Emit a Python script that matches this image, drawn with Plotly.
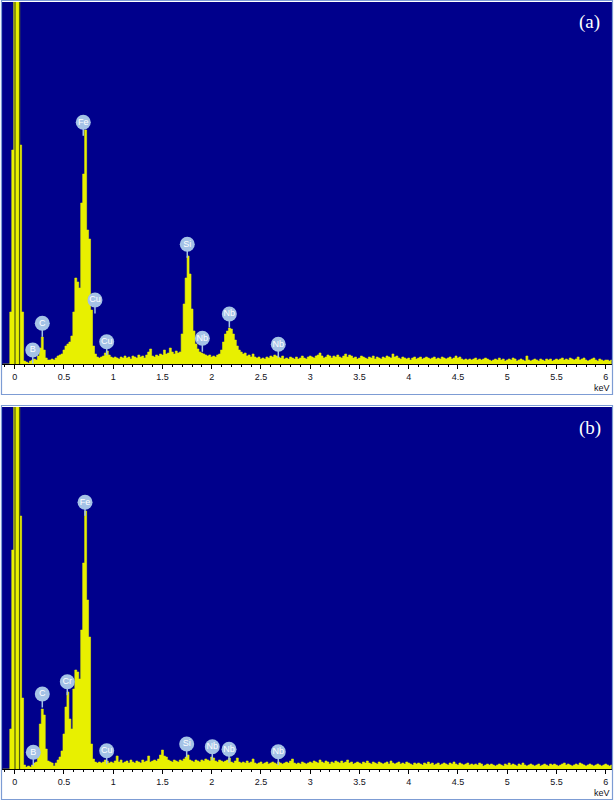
import numpy as np
import plotly.graph_objects as go

# ---------------- data ----------------
E_START = -0.12   # keV of first channel
E_STEP = 0.02     # keV per channel

counts_a = [
    0, 0, 0, 0, 52, 214, 600, 600, 600, 219,
    52, 3, 2, 1, 3, 4, 5, 4, 8, 16,
    27, 14, 6, 4, 4, 5, 4, 6, 8, 9,
    10, 14, 18, 20, 22, 28, 52, 86, 82, 76,
    161, 190, 234, 134, 125, 54, 18, 10, 7, 6,
    7, 8, 11, 13, 9, 7, 6, 7, 6, 5,
    7, 6, 8, 6, 7, 5, 8, 7, 6, 9,
    7, 8, 6, 9, 12, 15, 8, 7, 9, 8,
    10, 9, 14, 10, 11, 16, 12, 10, 13, 11,
    12, 30, 60, 86, 108, 90, 55, 33, 20, 15,
    12, 11, 10, 9, 8, 9, 7, 8, 7, 9,
    10, 14, 22, 30, 33, 36, 35, 30, 24, 18,
    14, 12, 10, 11, 8, 9, 7, 10, 7, 6,
    7, 5, 6, 5, 7, 6, 8, 7, 9, 8,
    7, 6, 8, 5, 6, 5, 7, 6, 5, 7,
    5, 6, 8, 6, 5, 7, 8, 7, 6, 8,
    9, 11, 8, 6, 7, 9, 8, 6, 8, 7,
    9, 7, 6, 8, 10, 7, 9, 8, 6, 7,
    5, 6, 8, 7, 6, 5, 7, 6, 8, 5,
    7, 6, 5, 7, 6, 8, 7, 6, 10, 7,
    8, 6, 5, 7, 6, 5, 6, 4, 6, 7,
    5, 6, 7, 5, 6, 7, 6, 5, 6, 7,
    5, 6, 5, 7, 6, 5, 6, 7, 5, 6,
    8, 6, 7, 5, 4, 5, 4, 5, 4, 5,
    6, 4, 5, 4, 5, 6, 5, 4, 3, 4,
    5, 4, 6, 4, 5, 3, 4, 5, 4, 6,
    5, 3, 4, 5, 4, 3, 8, 4, 3, 4,
    5, 4, 3, 5, 4, 3, 5, 4, 5, 3,
    4, 5, 4, 5, 6, 4, 5, 4, 6, 5,
    4, 5, 7, 4, 5, 6, 4, 3, 4, 5,
    6, 4, 3, 5, 4, 3, 4, 4, 3, 4,
]

counts_b = [
    0, 0, 0, 0, 40, 219, 600, 600, 600, 253,
    71, 4, 2, 3, 2, 4, 6, 7, 14, 45,
    60, 54, 20, 8, 7, 6, 3, 6, 9, 12,
    18, 35, 62, 77, 50, 40, 80, 99, 97, 90,
    139, 206, 258, 169, 132, 25, 10, 7, 6, 7,
    6, 7, 9, 8, 6, 7, 6, 8, 13, 7,
    9, 6, 7, 8, 6, 9, 7, 6, 8, 7,
    6, 9, 7, 8, 13, 7, 8, 9, 8, 10,
    14, 19, 13, 12, 9, 8, 7, 9, 8, 7,
    9, 8, 10, 12, 14, 9, 8, 7, 9, 8,
    7, 9, 8, 10, 9, 8, 12, 11, 8, 7,
    9, 8, 7, 8, 9, 11, 7, 6, 8, 11,
    7, 6, 7, 6, 8, 6, 7, 10, 6, 5,
    6, 7, 5, 6, 7, 5, 6, 7, 6, 5,
    7, 6, 5, 6, 7, 6, 8, 10, 6, 5,
    6, 5, 7, 6, 5, 6, 7, 6, 8, 7,
    6, 9, 7, 6, 8, 7, 5, 7, 6, 8,
    7, 6, 8, 6, 7, 9, 6, 7, 5, 6,
    7, 6, 5, 7, 6, 8, 6, 5, 7, 6,
    5, 7, 6, 5, 6, 7, 5, 8, 6, 5,
    6, 7, 5, 6, 5, 7, 6, 5, 4, 6,
    5, 6, 5, 4, 6, 5, 7, 5, 6, 4,
    5, 6, 4, 5, 6, 5, 4, 6, 5, 7,
    5, 4, 6, 5, 4, 5, 6, 4, 5, 4,
    5, 4, 6, 5, 3, 4, 5, 4, 5, 4,
    3, 4, 5, 4, 3, 5, 4, 6, 4, 5,
    4, 3, 5, 4, 6, 4, 3, 4, 5, 4,
    3, 4, 5, 3, 4, 5, 4, 3, 5, 4,
    5, 4, 3, 4, 5, 6, 4, 5, 4, 3,
    4, 5, 4, 6, 5, 4, 3, 4, 5, 4,
    3, 4, 5, 4, 3, 4, 5, 4, 3, 4,
]

labels_a = ["B", "C", "Fe", "Cu", "Cu", "Si", "Nb", "Nb", "Nb"]
label_kev_a = [0.183, 0.280, 0.696, 0.815, 0.934, 1.752, 1.905, 2.179, 2.676]
label_h_a = [14, 40.7, 241.7, 64, 22.3, 119.7, 25.7, 50, 19.7]

labels_b = ["B", "C", "Cr", "Fe", "Cu", "Si", "Nb", "Nb", "Nb"]
label_kev_b = [0.189, 0.280, 0.534, 0.714, 0.934, 1.746, 2.006, 2.176, 2.676]
label_h_b = [16.7, 75, 87.3, 266.7, 18.3, 25, 22.3, 19.7, 17.3]

tick_vals = [0, 0.5, 1, 1.5, 2, 2.5, 3, 3.5, 4, 4.5, 5, 5.5, 6]
tick_text = ["0", "0.5", "1", "1.5", "2", "2.5", "3", "3.5", "4", "4.5", "5", "5.5", "6"]
marker_lines_kev = [0.003, 0.049]
panel_tags = ["(a)", "(b)"]

# ---------------- style ----------------
W, H = 614, 801
BLUE = "#00008c"
YELLOW = "#e8f000"
LABEL_FILL = "#a4c2e6"
FRAME = "#7d9cd4"
Y_MAX = 362

def py(px):  # pixel from top -> paper y
    return 1 - px / H

def pxx(px):
    return px / W

panels = [
    dict(counts=counts_a, labels=labels_a, lk=label_kev_a, lh=label_h_a,
         top=0, xa="x", ya="y"),
    dict(counts=counts_b, labels=labels_b, lk=label_kev_b, lh=label_h_b,
         top=405, xa="x2", ya="y2"),
]

fig = go.Figure()
shapes = []
annotations = []
layout_axes = {}

for k, p in enumerate(panels):
    t = p["top"]
    energies = np.round(E_START + E_STEP * np.arange(len(p["counts"])), 3)
    fig.add_trace(go.Scatter(
        x=energies, y=p["counts"], mode="lines", line_shape="hvh",
        fill="tozeroy", fillcolor=YELLOW,
        line=dict(color=YELLOW, width=0.6),
        xaxis=p["xa"], yaxis=p["ya"], hoverinfo="skip", showlegend=False))
    # label stems
    stem_y = [h - 10 for h in p["lh"]]
    fig.add_trace(go.Scatter(
        x=p["lk"], y=stem_y, mode="markers",
        marker=dict(symbol="line-ns", size=5, line=dict(color=LABEL_FILL, width=1.5)),
        xaxis=p["xa"], yaxis=p["ya"], hoverinfo="skip", showlegend=False))
    # label bubbles
    fig.add_trace(go.Scatter(
        x=p["lk"], y=p["lh"], mode="markers+text", text=p["labels"],
        textposition="middle center",
        textfont=dict(family="Liberation Sans", size=9, color="white"),
        marker=dict(size=15, color=LABEL_FILL, line=dict(width=0)),
        xaxis=p["xa"], yaxis=p["ya"], hoverinfo="skip", showlegend=False))

    xname = "xaxis" if k == 0 else "xaxis2"
    yname = "yaxis" if k == 0 else "yaxis2"
    layout_axes[xname] = dict(
        domain=[pxx(2), pxx(612)], range=[-0.129, 6.064],
        anchor=p["ya"], showgrid=False, zeroline=False,
        showline=True, linecolor="black", linewidth=1,
        tickmode="array", tickvals=tick_vals, ticktext=tick_text,
        ticks="outside", ticklen=4, tickcolor="black", tickwidth=1,
        ticklabelstandoff=0,
        tickfont=dict(family="Liberation Sans", size=9, color="#101020"),
        minor=dict(dtick=0.1, tick0=0, ticks="outside", ticklen=2,
                   tickcolor="black", tickwidth=1),
        fixedrange=True)
    layout_axes[yname] = dict(
        domain=[py(t + 364), py(t + 2)], range=[0, Y_MAX],
        anchor=p["xa"], showgrid=False, zeroline=False, showticklabels=False,
        ticks="", showline=False, fixedrange=True)

    # dark marker lines at the zero peak
    for mk in marker_lines_kev:
        shapes.append(dict(type="line", xref=p["xa"], yref=p["ya"] + " domain",
                           x0=mk, x1=mk, y0=0, y1=1,
                           line=dict(color="#4e5a10", width=1.2), layer="above"))
    # panel frame
    shapes.append(dict(type="rect", xref="paper", yref="paper",
                       x0=pxx(1.5), x1=pxx(612.5), y0=py(t + 394.5), y1=py(t + 0.5),
                       line=dict(color=FRAME, width=1.2), layer="above"))
    annotations.append(dict(text=panel_tags[k], xref="paper", yref="paper",
                            x=pxx(589.5), y=py(t + 22.5), showarrow=False,
                            xanchor="center", yanchor="middle",
                            font=dict(family="Liberation Serif", size=19, color="white")))
    annotations.append(dict(text="keV", xref="paper", yref="paper",
                            x=pxx(601.5), y=py(t + 388), showarrow=False,
                            xanchor="center", yanchor="middle",
                            font=dict(family="Liberation Sans", size=9, color="#101020")))

fig.update_layout(
    width=W, height=H, margin=dict(l=0, r=0, t=0, b=0),
    paper_bgcolor="white", plot_bgcolor=BLUE,
    shapes=shapes, annotations=annotations, showlegend=False,
    **layout_axes)

fig.write_html("out.html", config=dict(displayModeBar=False),
               post_script="document.body.style.margin='0';document.body.style.overflow='hidden';")
